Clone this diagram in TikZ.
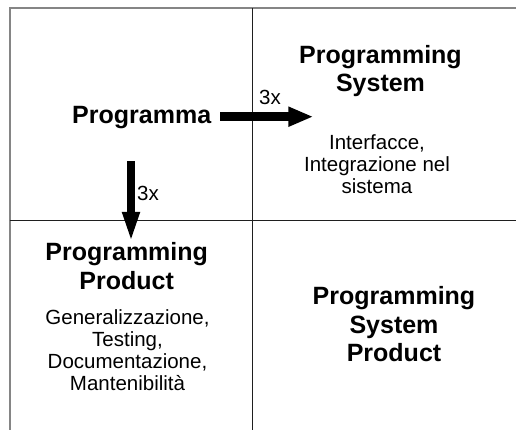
\documentclass[tikz,border=0pt]{standalone}
\usepackage{fontspec}
\setmainfont{Liberation Sans}
\usetikzlibrary{arrows.meta}
\begin{document}
\begin{tikzpicture}[x=1pt,y=-1pt,
  frame/.style={draw=black!48, line width=2pt},
  grid/.style={draw=black!88, line width=1.5pt},
  % multi-line nodes are anchored at the baseline of their last line
  title/.style={font=\fontsize{25}{28.5}\selectfont\bfseries, align=center, inner sep=0pt, anchor=base},
  body/.style={font=\fontsize{20.5}{21.7}\selectfont, align=center, inner sep=0pt, anchor=base},
  mult/.style={font=\fontsize{20.5}{24}\selectfont, inner sep=0pt, anchor=base west},
  rightarrow/.style={line width=9.5pt, -{Triangle[length=25pt,width=18.5pt]}},
  downarrow/.style={line width=8pt, -{Triangle[length=31pt,width=15.5pt]}}
]
\useasboundingbox (0,0) rectangle (516,430);

% quadrant lines
\coordinate (corner) at (9.5,8.5);
\draw[frame] (corner -| 516,0) -- (corner) -- (corner |- 0,430);
\draw[grid] (252.3,8.5) -- (252.3,430);
\draw[grid] (9.5,220.5) -- (516,220.5);

% quadrant texts
\node[title] (prog) at (141.7,123.3) {Programma};
\node[title] (sys) at (380.5,91.7) {Programming\\System};
\node[body] (sysnote) at (377,193.4) {Interfacce,\\Integrazione nel\\sistema};
\node[title] (prod) at (126.7,289) {Programming\\Product};
\node[body] (prodnote) at (127.5,390) {Generalizzazione,\\Testing,\\Documentazione,\\Mantenibilità};
\node[title] (sysprod) at (394,361.7) {Programming\\System\\Product};

% growth arrows
\coordinate (rtip) at (313.3,116.7);
\coordinate (dtip) at (131,243);
\draw[rightarrow, shorten <=9pt] (prog.east |- rtip) -- (rtip);
\draw[downarrow] (prog.south -| dtip) ++(0,32.5) -- (dtip);
\node[mult] (m1) at (259,105) {3x};
\node[mult] (m2) at (137,201) {3x};
\end{tikzpicture}
\end{document}
